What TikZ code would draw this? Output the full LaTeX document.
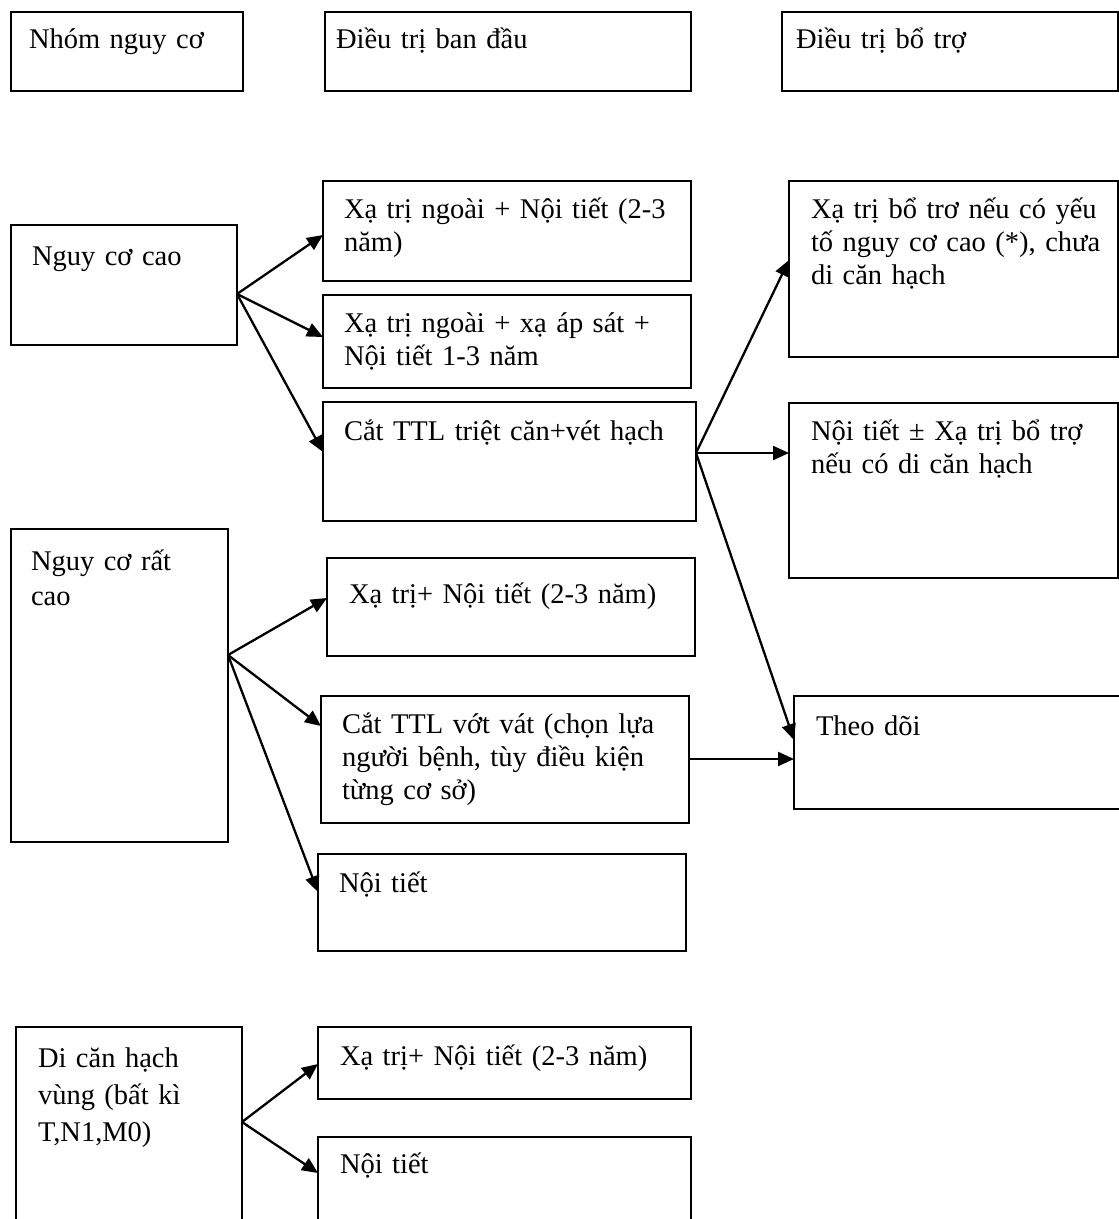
\documentclass[tikz,border=0pt]{standalone}
\usepackage{fontspec}
\setmainfont{Liberation Serif}
\usetikzlibrary{arrows.meta}
\newcommand{\mybox}[5]{\node[box, anchor=north west, minimum width=#4pt-#2pt, minimum height=#5pt-#3pt] (#1) at (#2,#3) {};}
\tikzset{
  box/.style={draw, line width=1.9pt, rectangle, inner sep=0pt, outer sep=0pt},
  txt/.style={inner sep=0pt, outer sep=0pt, anchor=base west, align=left, text width=12cm,
              font=\fontsize{28.5}{33}\selectfont},
  txtc/.style={txt, font=\fontsize{28.5}{37}\selectfont},
  arr/.style={line width=2.3pt, -{Triangle[length=16pt,width=14pt]}},
}
\begin{document}
\begin{tikzpicture}[x=1pt,y=-1pt]
\useasboundingbox[fill=white] (0,0) rectangle (1119,1219);
% boxes
\mybox{T1}{11}{12}{243}{91}
\mybox{T2}{325}{12}{691}{91}
\mybox{T3}{782}{12}{1118}{91}
\mybox{H}{11}{225}{237}{345}
\mybox{A1}{323}{181}{691}{281}
\mybox{A2}{323}{295}{691}{388}
\mybox{A3}{323}{402}{696}{521}
\mybox{V}{11}{529}{228}{842}
\mybox{B1}{327}{558}{695}{656}
\mybox{B2}{321}{696}{689}{823}
\mybox{B3}{318}{854}{686}{951}
\mybox{D1}{789}{181}{1118}{357}
\mybox{D2}{789}{403}{1118}{578}
\mybox{D3}{794}{696}{1130}{809}
\mybox{C}{16}{1027}{242}{1240}
\mybox{C1}{318}{1027}{691}{1099}
\mybox{C2}{318}{1137}{691}{1240}
% texts
\node[txt] (T1t) at (29,48) {Nhóm nguy cơ};
\node[txt] (T2t) at (336,48) {Điều trị ban đầu};
\node[txt] (T3t) at (796,48) {Điều trị bổ trợ};
\node[txt] (Ht) at (32,265) {Nguy cơ cao};
\node[txt] (A1t) at (344,218) {Xạ trị ngoài + Nội tiết (2-3\\năm)};
\node[txt] (A2t) at (344,332) {Xạ trị ngoài + xạ áp sát +\\Nội tiết 1-3 năm};
\node[txt] (A3t) at (344,440) {Cắt TTL triệt căn+vét hạch};
\node[txt] (Vt) at (31,570) {Nguy cơ rất\\[2pt]cao};
\node[txt] (B1t) at (349,603) {Xạ trị+ Nội tiết (2-3 năm)};
\node[txt] (B2t) at (342,733) {Cắt TTL vớt vát (chọn lựa\\người bệnh, tùy điều kiện\\từng cơ sở)};
\node[txt] (B3t) at (339,892) {Nội tiết};
\node[txt] (D1t) at (811,218) {Xạ trị bổ trơ nếu có yếu\\tố nguy cơ cao (*), chưa\\di căn hạch};
\node[txt] (D2t) at (811,440) {Nội tiết ± Xạ trị bổ trợ\\nếu có di căn hạch};
\node[txt] (D3t) at (816,735) {Theo dõi};
\node[txtc] (Ct) at (38,1067) {Di căn hạch\\vùng (bất kì\\T,N1,M0)};
\node[txt] (C1t) at (340,1065) {Xạ trị+ Nội tiết (2-3 năm)};
\node[txt] (C2t) at (340,1173) {Nội tiết};
% connectors
\draw[arr] (H.east |- 0,294) -- (A1.west |- 0,235);
\draw[arr] (H.east |- 0,294) -- (A2.west |- 0,337);
\draw[arr] (H.east |- 0,294) -- (A3.west |- 0,452);
\draw[arr] (A3.east |- 0,453) -- (D1.west |- 0,260);
\draw[arr] (A3.east |- 0,453) -- (D2.west |- 0,453);
\draw[arr] (A3.east |- 0,453) -- (D3.west |- 0,740);
\draw[arr] (V.east |- 0,655) -- (B1.west |- 0,598);
\draw[arr] (V.east |- 0,655) -- (B2.west |- 0,726);
\draw[arr] (V.east |- 0,655) -- (B3.west |- 0,892);
\draw[arr] (B2.east |- 0,759) -- (D3.west |- 0,759);
\draw[arr] (C.east |- 0,1122) -- (C1.west |- 0,1064);
\draw[arr] (C.east |- 0,1122) -- (C2.west |- 0,1173);
\end{tikzpicture}
\end{document}
